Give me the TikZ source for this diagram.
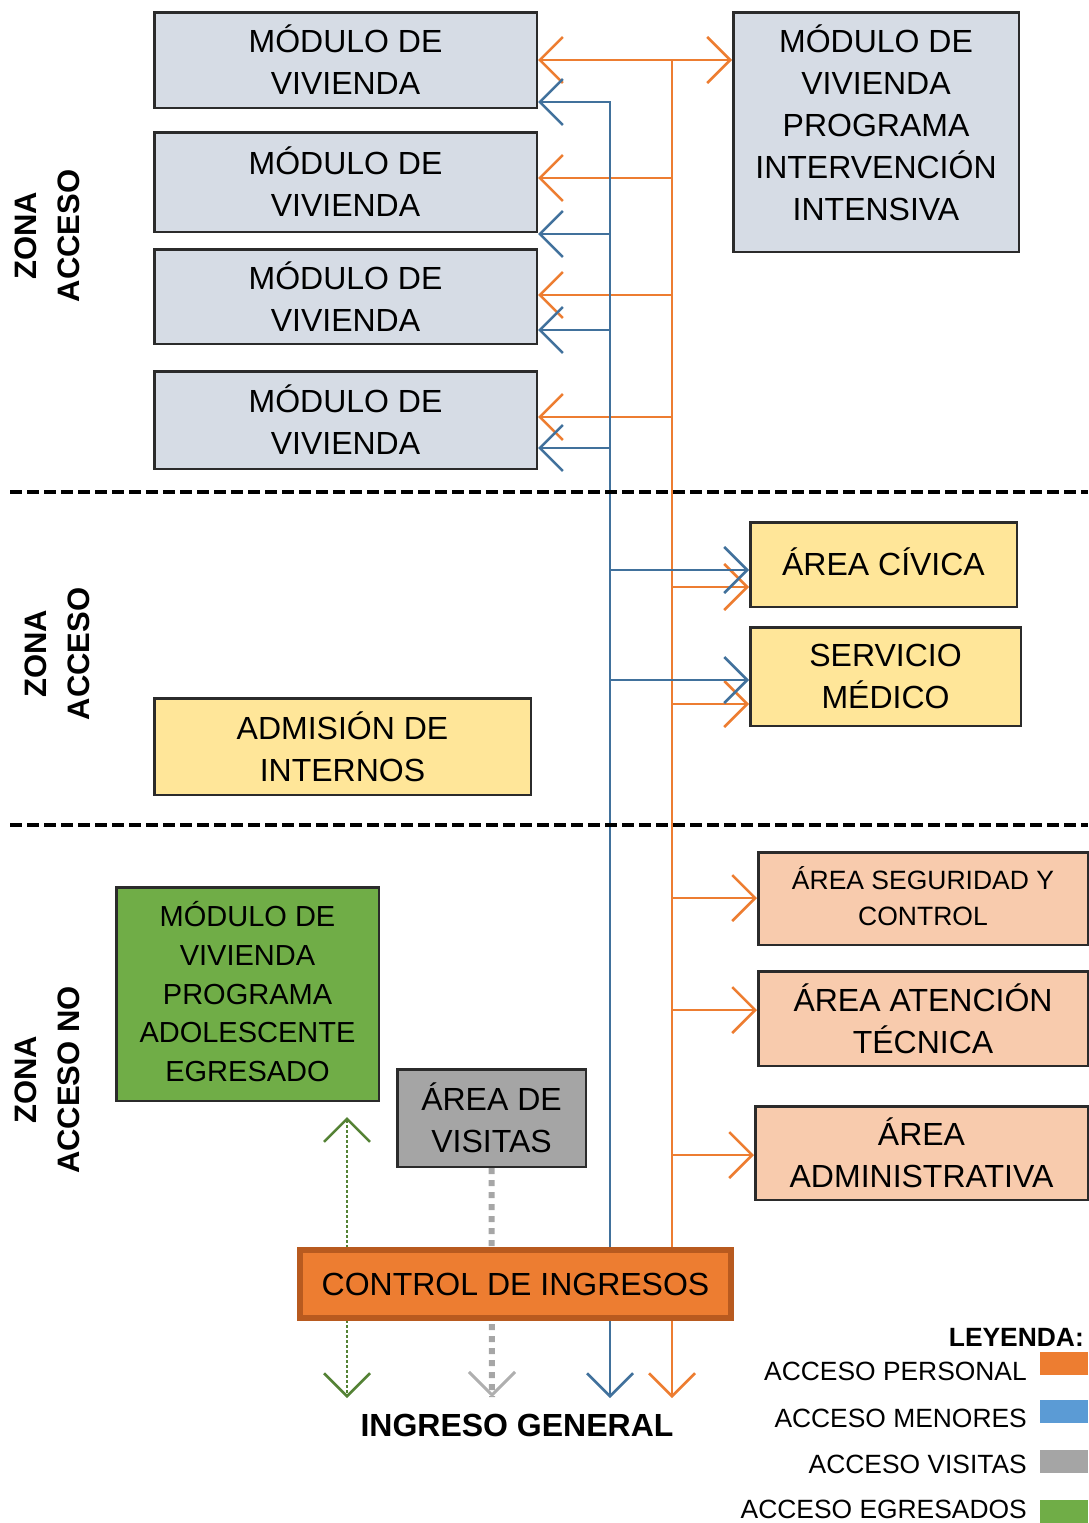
\documentclass[tikz,border=0pt]{standalone}
\usepackage{fontspec}
\setmainfont{Liberation Sans}
\usetikzlibrary{arrows.meta,calc}
\definecolor{modfill}{HTML}{D6DCE5}
\definecolor{yelfill}{HTML}{FFE699}
\definecolor{salfill}{HTML}{F8CBAD}
\definecolor{grnfill}{HTML}{70AD47}
\definecolor{gryfill}{HTML}{A5A5A5}
\definecolor{ctrlfill}{HTML}{ED7D31}
\definecolor{ctrlline}{HTML}{B85A1F}
\definecolor{boxline}{HTML}{2B2B2B}
\definecolor{lineor}{HTML}{ED7D31}
\definecolor{lineblue}{HTML}{41719C}
\definecolor{linegreen}{HTML}{548235}
\definecolor{linegray}{HTML}{A6A6A6}
\definecolor{headgray}{HTML}{AFAFAF}
\definecolor{legblue}{HTML}{5B9BD5}
\begin{document}
\begin{tikzpicture}[x=1pt,y=-1pt,
  >={Straight Barb[length=23pt,width=46pt]},
  box/.style={draw=boxline, line width=2.5pt, inner sep=0pt, align=center,
    font=\fontsize{32}{42}\selectfont},
  smallbox/.style={box, font=\fontsize{26.5}{36}\selectfont},
  grnbox/.style={box, font=\fontsize{29}{38.8}\selectfont},
  zone/.style={rotate=90, align=center, inner sep=0pt,
    font=\bfseries\fontsize{31}{43}\selectfont},
  ol/.style={draw=lineor, line width=2.5pt},
  bl/.style={draw=lineblue, line width=2.5pt},
  gl/.style={draw=linegreen, line width=2.5pt, dash pattern=on 2.5pt off 2.5pt},
  gyl/.style={draw=linegray, line width=6pt, dash pattern=on 6pt off 6pt},
  gyhead/.style={draw=headgray, line width=3pt},
  sep/.style={draw=black, line width=4pt, dash pattern=on 12pt off 5pt},
  leglab/.style={anchor=east, inner sep=0pt, font=\fontsize{26.4}{30}\selectfont},
  swatch/.style={inner sep=0pt, minimum width=48pt, minimum height=23pt}
]
\useasboundingbox (0,0) rectangle (1088,1523);

% boxes
\node[box, fill=modfill, minimum width=382.5pt, minimum height=95.5pt] (m1) at (345.5,60) {MÓDULO DE\\VIVIENDA};
\node[box, fill=modfill, minimum width=382.5pt, minimum height=99.5pt] (m2) at (345.5,182) {MÓDULO DE\\VIVIENDA};
\node[box, fill=modfill, minimum width=382.5pt, minimum height=94.5pt] (m3) at (345.5,296.5) {MÓDULO DE\\VIVIENDA};
\node[box, fill=modfill, minimum width=382.5pt, minimum height=97.5pt] (m4) at (345.5,420) {MÓDULO DE\\VIVIENDA};
\node[box, fill=modfill, minimum width=285.5pt, minimum height=239.5pt, text depth=18pt] (mpi) at (876,132) {MÓDULO DE\\VIVIENDA\\PROGRAMA\\INTERVENCIÓN\\INTENSIVA};
\node[box, fill=yelfill, minimum width=266.5pt, minimum height=84.5pt, text depth=6pt] (civica) at (883.5,564.5) {ÁREA CÍVICA};
\node[box, fill=yelfill, minimum width=270.5pt, minimum height=98.5pt] (servicio) at (885.5,676.5) {SERVICIO\\MÉDICO};
\node[box, fill=yelfill, minimum width=376.5pt, minimum height=96.5pt] (admision) at (342.5,746.5) {ADMISIÓN DE\\INTERNOS};
\node[smallbox, fill=salfill, minimum width=329.5pt, minimum height=92.5pt, text depth=6pt] (seg) at (923,898.5) {ÁREA SEGURIDAD Y\\CONTROL};
\node[box, fill=salfill, minimum width=329.5pt, minimum height=94.5pt] (aten) at (923,1018.5) {ÁREA ATENCIÓN\\TÉCNICA};
\node[box, fill=salfill, minimum width=332.5pt, minimum height=93.5pt] (adm) at (921.5,1153) {ÁREA\\ADMINISTRATIVA};
\node[grnbox, fill=grnfill, minimum width=262.5pt, minimum height=213.5pt, text depth=5pt] (green) at (247.5,994) {MÓDULO DE\\VIVIENDA\\PROGRAMA\\ADOLESCENTE\\EGRESADO};
\node[box, fill=gryfill, minimum width=188.5pt, minimum height=97.5pt] (visitas) at (491.5,1118) {ÁREA DE\\VISITAS};

% junction coordinates
\coordinate (otop) at (672,60);
\coordinate (obot) at (672,1398);
\coordinate (btop) at (610,102);
\coordinate (bbot) at (610,1398);
\coordinate (gtop) at (347,1117);
\coordinate (gbot) at (347,1398);
\coordinate (vbot) at (492,1397);

% orange (personal)
\draw[ol,<->] (m1.east) -- (m1.east -| mpi.west);
\draw[ol,->] (otop) -- (obot);
\foreach \yy/\n in {178/m2, 295/m3, 417/m4}
  \draw[ol,->] (otop |- 0,\yy) -- (\n.east |- 0,\yy);
\foreach \yy/\n in {587/civica, 704/servicio, 898/seg, 1010/aten, 1155/adm}
  \draw[ol,->] (otop |- 0,\yy) -- (\n.west |- 0,\yy);

% blue (menores)
\draw[bl,<->] (m1.east |- btop) -- (btop) -- (bbot);
\foreach \yy/\n in {234/m2, 330/m3, 448/m4}
  \draw[bl,->] (btop |- 0,\yy) -- (\n.east |- 0,\yy);
\foreach \yy/\n in {570/civica, 680/servicio}
  \draw[bl,->] (btop |- 0,\yy) -- (\n.west |- 0,\yy);

% green (egresados)
\draw[gl,<->] (gtop) -- (gbot);

% gray (visitas)
\draw[gyl] (visitas.south) -- (vbot);
\draw[gyhead,->] ($(vbot)+(0,-2)$) -- (vbot);

% control box on top of lines
\node[box, fill=ctrlfill, draw=ctrlline, line width=6pt, minimum width=431pt, minimum height=68pt] (control) at (515.5,1284) {CONTROL DE INGRESOS};
\node[inner sep=0pt, font=\bfseries\fontsize{32}{38}\selectfont] (ingreso) at (517,1425) {INGRESO GENERAL};

% separators
\coordinate (s1a) at (10,492);
\coordinate (s1b) at (1088,492);
\coordinate (s2a) at (10,825);
\coordinate (s2b) at (1088,825);
\draw[sep] (s1a) -- (s1b);
\draw[sep] (s2a) -- (s2b);

% zone labels
\node[zone] (z1) at (47.5,236) {ZONA\\ACCESO};
\node[zone] (z2) at (57.5,654) {ZONA\\ACCESO};
\node[zone] (z3) at (47.5,1080) {ZONA\\ACCESO NO};

% legend
\node[anchor=east, inner sep=0pt, font=\bfseries\fontsize{26.4}{30}\selectfont] (ley) at (1084,1337) {LEYENDA:};
\node[leglab] (l1) at (1027,1371) {ACCESO PERSONAL};
\node[leglab] (l2) at (1027,1418) {ACCESO MENORES};
\node[leglab] (l3) at (1027,1464) {ACCESO VISITAS};
\node[leglab] (l4) at (1027,1509) {ACCESO EGRESADOS};
\node[swatch, fill=ctrlfill] (sw1) at (1064,1363.5) {};
\node[swatch, fill=legblue] (sw2) at (1064,1411.5) {};
\node[swatch, fill=gryfill] (sw3) at (1064,1461.5) {};
\node[swatch, fill=grnfill] (sw4) at (1064,1511.5) {};
\end{tikzpicture}
\end{document}
